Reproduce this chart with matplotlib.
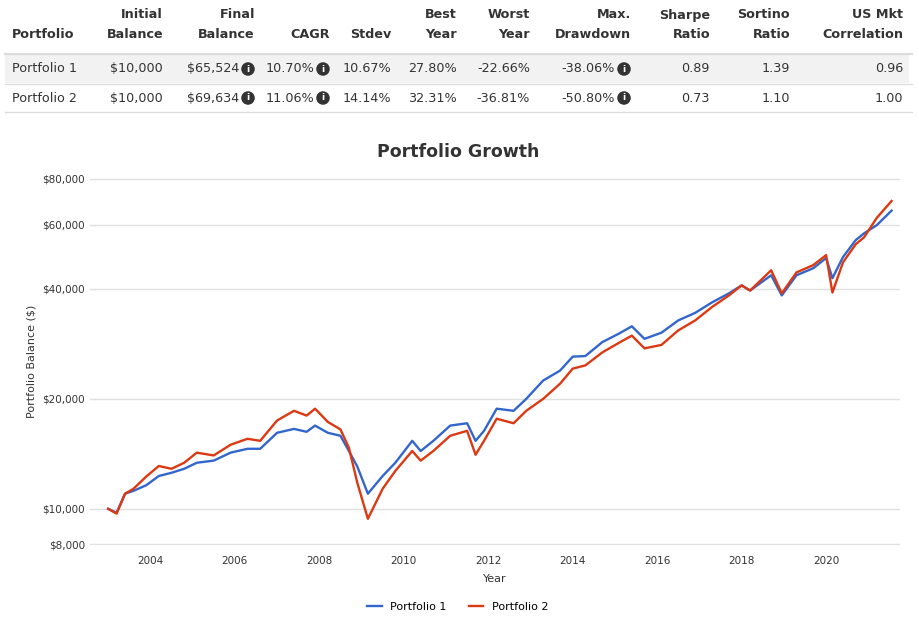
import matplotlib.pyplot as plt
from matplotlib.ticker import FixedLocator, NullLocator, FuncFormatter

years = [2003.0, 2003.2, 2003.4, 2003.6, 2003.9, 2004.2, 2004.5, 2004.8, 2005.1, 2005.5,
         2005.9, 2006.3, 2006.6, 2007.0, 2007.4, 2007.7, 2007.9, 2008.2, 2008.5, 2008.7,
         2008.9, 2009.15, 2009.5, 2009.8, 2010.2, 2010.4, 2010.7, 2011.1, 2011.5, 2011.7,
         2011.9, 2012.2, 2012.6, 2012.9, 2013.3, 2013.7, 2014.0, 2014.3, 2014.7, 2015.1,
         2015.4, 2015.7, 2016.1, 2016.5, 2016.9, 2017.3, 2017.7, 2018.0, 2018.2, 2018.7,
         2018.95, 2019.3, 2019.7, 2020.0, 2020.15, 2020.4, 2020.7, 2020.9, 2021.2, 2021.55]
p1 = [10000, 9750, 11000, 11200, 11600, 12300, 12550, 12870, 13370, 13550,
      14250, 14600, 14600, 16150, 16550, 16250, 16900, 16150, 15850, 14400,
      13050, 11000, 12300, 13370, 15350, 14400, 15350, 16900, 17150, 15350,
      16350, 18800, 18550, 20000, 22450, 23900, 26100, 26200, 28600, 30200,
      31600, 29200, 30350, 32800, 34400, 36750, 38900, 40900, 39600, 43600,
      38400, 43600, 45600, 48600, 42800, 48900, 54400, 56800, 59800, 65524]
p2 = [10000, 9700, 11000, 11350, 12250, 13100, 12870, 13370, 14250, 14000,
      14980, 15550, 15350, 17450, 18550, 18000, 18800, 17300, 16500, 14700,
      11780, 9390, 11350, 12700, 14400, 13550, 14400, 15850, 16350, 14060,
      15350, 17650, 17150, 18550, 20000, 22000, 24200, 24700, 26800, 28500,
      29800, 27500, 28100, 30800, 32800, 35700, 38400, 40900, 39600, 45000,
      38900, 44400, 46500, 49500, 39100, 47300, 53000, 55400, 62600, 69634]

headers = [("Portfolio", ""), ("Initial", "Balance"), ("Final", "Balance"), ("CAGR", ""),
           ("Stdev", ""), ("Best", "Year"), ("Worst", "Year"), ("Max.", "Drawdown"),
           ("Sharpe", "Ratio"), ("Sortino", "Ratio"), ("US Mkt", "Correlation")]
rows = [["Portfolio 1", "$10,000", "$65,524", "10.70%", "10.67%", "27.80%", "-22.66%", "-38.06%", "0.89", "1.39", "0.96"],
        ["Portfolio 2", "$10,000", "$69,634", "11.06%", "14.14%", "32.31%", "-36.81%", "-50.80%", "0.73", "1.10", "1.00"]]
icon_cols = [2, 3, 7]

W, H = 919, 634
fig = plt.figure(figsize=(9.19, 6.34), dpi=100)

def fx(px):
    return px / W

def fy(py):
    return 1 - py / H

FS = 9.2
col_right = [None, 163, 255, 330, 391, 457, 530, 631, 710, 790, 903]
# header
for i, (a, b) in enumerate(headers):
    if i == 0:
        fig.text(fx(12), fy(35), a, ha='left', va='center', fontsize=FS, fontweight='bold', color='#333')
        continue
    x = fx(col_right[i])
    if b:
        fig.text(x, fy(15), a, ha='right', va='center', fontsize=FS, fontweight='bold', color='#333')
        fig.text(x, fy(35), b, ha='right', va='center', fontsize=FS, fontweight='bold', color='#333')
    else:
        fig.text(x, fy(35), a, ha='right', va='center', fontsize=FS, fontweight='bold', color='#333')

fig.patches.append(plt.Rectangle((fx(5), fy(83)), fx(909) - fx(5), fy(55) - fy(83),
                                 transform=fig.transFigure, fc='#f2f2f2', ec='none', zorder=0))
for py in (54, 84, 112):
    fig.lines.append(plt.Line2D([fx(5), fx(912)], [fy(py), fy(py)], transform=fig.transFigure,
                                color='#dddddd', lw=1 if py > 54 else 1.6))

for r, (row, py) in enumerate(zip(rows, (69, 98))):
    for i, val in enumerate(row):
        if i == 0:
            fig.text(fx(12), fy(py), val, ha='left', va='center', fontsize=FS, color='#333')
            continue
        xr = col_right[i]
        if i in icon_cols:
            fig.text(fx(xr - 16), fy(py), val, ha='right', va='center', fontsize=FS, color='#333')
            fig.text(fx(xr - 7), fy(py), 'i', ha='center', va='center', fontsize=6.5, color='white',
                     fontweight='bold',
                     bbox=dict(boxstyle='circle,pad=0.25', fc='#333333', ec='none'))
        else:
            fig.text(fx(xr), fy(py), val, ha='right', va='center', fontsize=FS, color='#333')

fig.text(fx(458), fy(152), "Portfolio Growth", ha='center', va='center', fontsize=12.5,
         fontweight='bold', color='#333')

ax = fig.add_axes([fx(90), fy(545), fx(900) - fx(90), fy(178) - fy(545)])
ax.plot(years, p1, color='#3366cc', lw=1.7, label='Portfolio 1')
ax.plot(years, p2, color='#dc3912', lw=1.7, label='Portfolio 2')
ax.set_yscale('log')
ax.set_ylim(7960, 80500)
ax.set_xlim(2002.57, 2021.75)
yt = [8000, 10000, 20000, 40000, 60000, 80000]
ax.yaxis.set_major_locator(FixedLocator(yt))
ax.yaxis.set_minor_locator(NullLocator())
ax.yaxis.set_major_formatter(FuncFormatter(lambda v, p: "${:,.0f}".format(v)))
ax.set_xticks(range(2004, 2021, 2))
ax.tick_params(axis='both', length=0, labelsize=7.5, colors='#333')
ax.tick_params(axis='x', pad=8)
ax.grid(axis='y', color='#e0e0e0', lw=1)
ax.set_axisbelow(True)
for s in ax.spines.values():
    s.set_visible(False)
ax.set_ylabel("Portfolio Balance ($)", fontsize=8, color='#333')
ax.set_xlabel("Year", fontsize=8, color='#333', labelpad=6)
fig.legend(loc='center', bbox_to_anchor=(fx(458), fy(607)), ncol=2, frameon=False,
           fontsize=8, handlelength=1.3, columnspacing=2)

fig.savefig("out.png", dpi=100)
